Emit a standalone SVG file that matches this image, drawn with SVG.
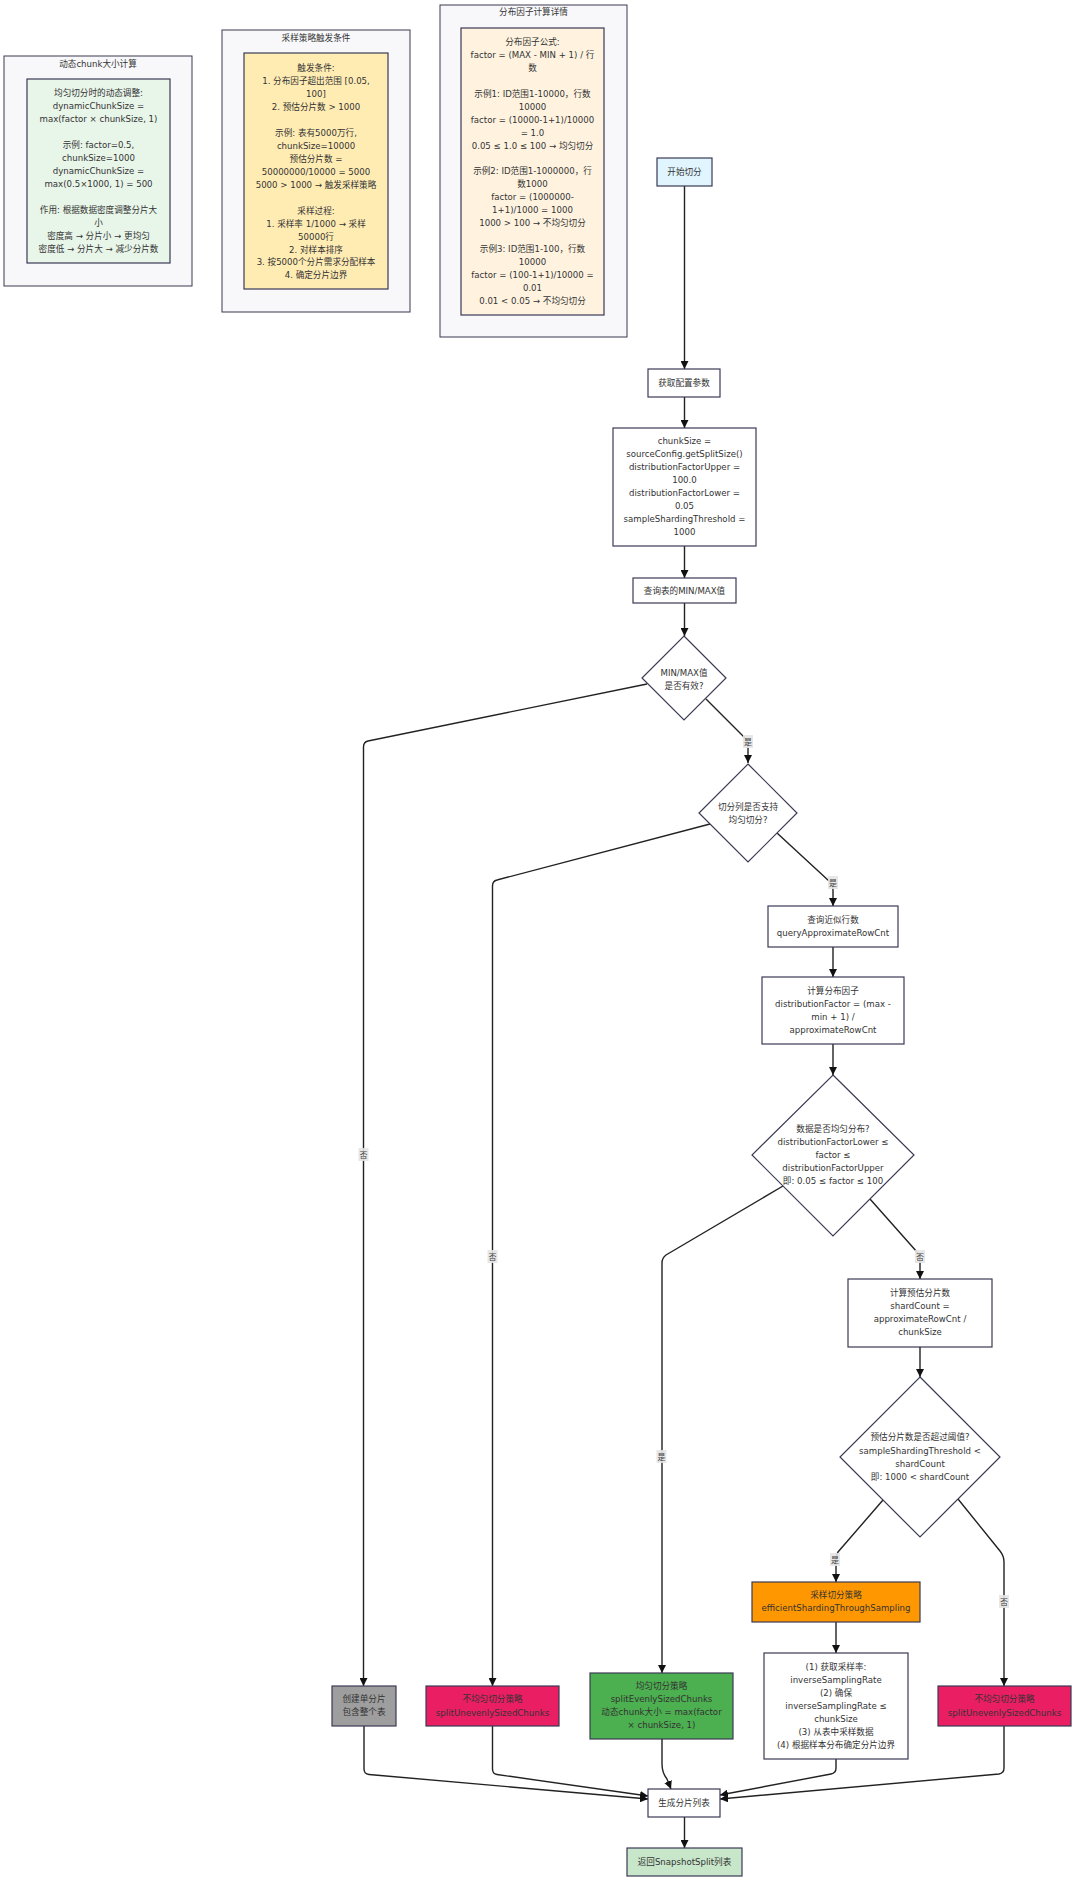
<svg xmlns="http://www.w3.org/2000/svg" width="1080" height="1888" viewBox="0 0 1080 1888">
<style>
.bg{fill:#ffffff}
.cl{fill:#f8f8fb;stroke:#3a3a50;stroke-width:1}
.n{fill:#ffffff;stroke:#3a3a55;stroke-width:1.2}
.t{font-family:"DejaVu Sans","Noto Sans CJK SC",sans-serif;font-size:8.6px;fill:#333333;text-anchor:middle}
.e{fill:none;stroke:#222222;stroke-width:1.4}
.lb{fill:#e4e4e4;opacity:0.9}
.lt{font-family:"Noto Sans CJK SC",sans-serif;font-size:8px;fill:#444;text-anchor:middle}
</style>
<defs>
<marker id="ah" markerUnits="userSpaceOnUse" markerWidth="8" markerHeight="8" refX="8" refY="4" orient="auto">
<path d="M0,0 L8,4 L0,8 z" fill="#111"/>
</marker>
</defs>
<rect class="bg" x="0" y="0" width="1080" height="1888"/>

<g id="cluster-dyn">
<rect class="cl" x="4" y="56" width="188" height="230"/>
<text class="t" x="98" y="67">动态chunk大小计算</text>
<g id="dynNote">
<rect class="n" x="27" y="79" width="143" height="184" style="fill:#e8f5e9"/>
<text class="t"><tspan x="98.5" y="96">均匀切分时的动态调整:</tspan><tspan x="98.5" y="109">dynamicChunkSize =</tspan><tspan x="98.5" y="122">max(factor × chunkSize, 1)</tspan><tspan x="98.5" y="148">示例: factor=0.5,</tspan><tspan x="98.5" y="161">chunkSize=1000</tspan><tspan x="98.5" y="174">dynamicChunkSize =</tspan><tspan x="98.5" y="187">max(0.5×1000, 1) = 500</tspan><tspan x="98.5" y="213">作用: 根据数据密度调整分片大</tspan><tspan x="98.5" y="226">小</tspan><tspan x="98.5" y="239">密度高 → 分片小 → 更均匀</tspan><tspan x="98.5" y="252">密度低 → 分片大 → 减少分片数</tspan></text>
</g>
</g>

<g id="cluster-sample">
<rect class="cl" x="222" y="30" width="188" height="282"/>
<text class="t" x="316" y="41">采样策略触发条件</text>
<g id="sampleNote">
<rect class="n" x="244" y="53" width="144" height="236" style="fill:#ffecb3"/>
<text class="t"><tspan x="316" y="71.3">触发条件:</tspan><tspan x="316" y="84.2">1. 分布因子超出范围 [0.05,</tspan><tspan x="316" y="97.2">100]</tspan><tspan x="316" y="110.1">2. 预估分片数 &gt; 1000</tspan><tspan x="316" y="136">示例: 表有5000万行,</tspan><tspan x="316" y="149">chunkSize=10000</tspan><tspan x="316" y="161.9">预估分片数 =</tspan><tspan x="316" y="174.8">50000000/10000 = 5000</tspan><tspan x="316" y="187.8">5000 &gt; 1000 → 触发采样策略</tspan><tspan x="316" y="213.6">采样过程:</tspan><tspan x="316" y="226.6">1. 采样率 1/1000 → 采样</tspan><tspan x="316" y="239.5">50000行</tspan><tspan x="316" y="252.5">2. 对样本排序</tspan><tspan x="316" y="265.4">3. 按5000个分片需求分配样本</tspan><tspan x="316" y="278.3">4. 确定分片边界</tspan></text>
</g>
</g>

<g id="cluster-factor">
<rect class="cl" x="440" y="5" width="187" height="332"/>
<text class="t" x="533.5" y="15">分布因子计算详情</text>
<g id="factorNote">
<rect class="n" x="461" y="28" width="143" height="287" style="fill:#fff3e0"/>
<text class="t"><tspan x="532.5" y="44.7">分布因子公式:</tspan><tspan x="532.5" y="57.7">factor = (MAX - MIN + 1) / 行</tspan><tspan x="532.5" y="70.6">数</tspan><tspan x="532.5" y="96.6">示例1: ID范围1-10000，行数</tspan><tspan x="532.5" y="109.6">10000</tspan><tspan x="532.5" y="122.5">factor = (10000-1+1)/10000</tspan><tspan x="532.5" y="135.5">= 1.0</tspan><tspan x="532.5" y="148.5">0.05 ≤ 1.0 ≤ 100 → 均匀切分</tspan><tspan x="532.5" y="174.4">示例2: ID范围1-1000000，行</tspan><tspan x="532.5" y="187.4">数1000</tspan><tspan x="532.5" y="200.3">factor = (1000000-</tspan><tspan x="532.5" y="213.3">1+1)/1000 = 1000</tspan><tspan x="532.5" y="226.3">1000 &gt; 100 → 不均匀切分</tspan><tspan x="532.5" y="252.2">示例3: ID范围1-100，行数</tspan><tspan x="532.5" y="265.2">10000</tspan><tspan x="532.5" y="278.2">factor = (100-1+1)/10000 =</tspan><tspan x="532.5" y="291.1">0.01</tspan><tspan x="532.5" y="304.1">0.01 &lt; 0.05 → 不均匀切分</tspan></text>
</g>
</g>

<g id="edges">
<path class="e" marker-end="url(#ah)" d="M684.5,186 L684.5,369"/>
<path class="e" marker-end="url(#ah)" d="M684.5,397 L684.5,428"/>
<path class="e" marker-end="url(#ah)" d="M684.5,546 L684.5,578"/>
<path class="e" marker-end="url(#ah)" d="M684.5,603 L684.5,636"/>
<path class="e" marker-end="url(#ah)" d="M706,699 L745,738 Q748,741 748,746 L748,763"/>
<path class="e" marker-end="url(#ah)" d="M647,684 L368,741 Q363.5,742 363.5,747 L363.5,1686"/>
<path class="e" marker-end="url(#ah)" d="M710,824 L497,880 Q492.5,881 492.5,886 L492.5,1686"/>
<path class="e" marker-end="url(#ah)" d="M777,833 L829,881 Q833,885 833,890 L833,906"/>
<path class="e" marker-end="url(#ah)" d="M833,947 L833,977"/>
<path class="e" marker-end="url(#ah)" d="M833,1044 L833,1075"/>
<path class="e" marker-end="url(#ah)" d="M783,1186 L666,1255 Q662,1258 662,1263 L662,1673"/>
<path class="e" marker-end="url(#ah)" d="M870,1199 L917,1252 Q920,1256 920,1261 L920,1279"/>
<path class="e" marker-end="url(#ah)" d="M920,1347 L920,1377"/>
<path class="e" marker-end="url(#ah)" d="M883,1500 L838,1552 Q836,1555 836,1560 L836,1582"/>
<path class="e" marker-end="url(#ah)" d="M958,1499 L1000,1551 Q1004,1556 1004,1562 L1004,1686"/>
<path class="e" marker-end="url(#ah)" d="M836,1622 L836,1653"/>
<path class="e" marker-end="url(#ah)" d="M364,1726 L364,1769 Q364,1774 369,1774.5 L648,1799"/>
<path class="e" marker-end="url(#ah)" d="M492.5,1726 L492.5,1769 Q492.5,1774 497,1774.5 L648,1796"/>
<path class="e" marker-end="url(#ah)" d="M662,1739 L662,1764 Q662,1773 667,1779 L671,1789"/>
<path class="e" marker-end="url(#ah)" d="M836,1759 L836,1768 Q836,1773 831,1774 L720,1795"/>
<path class="e" marker-end="url(#ah)" d="M1004,1726 L1004,1768 Q1004,1773 999,1774 L720,1799"/>
<path class="e" marker-end="url(#ah)" d="M684.5,1817 L684.5,1848"/>
<g id="edge-labels">
<rect class="lb" x="743" y="735" width="10" height="13"/><text class="lt" x="748" y="745">是</text>
<rect class="lb" x="358.5" y="1148" width="10" height="13"/><text class="lt" x="363.5" y="1158">否</text>
<rect class="lb" x="487.5" y="1250" width="10" height="13"/><text class="lt" x="492.5" y="1260">否</text>
<rect class="lb" x="828" y="876" width="10" height="13"/><text class="lt" x="833" y="886">是</text>
<rect class="lb" x="656.5" y="1450" width="10" height="13"/><text class="lt" x="661.5" y="1460">是</text>
<rect class="lb" x="915" y="1250" width="10" height="13"/><text class="lt" x="920" y="1260">否</text>
<rect class="lb" x="830" y="1553" width="10" height="13"/><text class="lt" x="835" y="1563">是</text>
<rect class="lb" x="999" y="1595" width="10" height="13"/><text class="lt" x="1004" y="1605">否</text>
</g>
</g>

<g id="start">
<rect class="n" x="657" y="158" width="55" height="28" style="fill:#e1f5fe"/>
<text class="t" x="684.5" y="175">开始切分</text>
</g>
<g id="getConfig">
<rect class="n" x="648" y="369" width="72" height="28"/>
<text class="t" x="684" y="386">获取配置参数</text>
</g>
<g id="configVals">
<rect class="n" x="613" y="428" width="143" height="118"/>
<text class="t"><tspan x="684.5" y="443.7">chunkSize =</tspan><tspan x="684.5" y="456.8">sourceConfig.getSplitSize()</tspan><tspan x="684.5" y="469.9">distributionFactorUpper =</tspan><tspan x="684.5" y="483">100.0</tspan><tspan x="684.5" y="496">distributionFactorLower =</tspan><tspan x="684.5" y="509.1">0.05</tspan><tspan x="684.5" y="522.2">sampleShardingThreshold =</tspan><tspan x="684.5" y="535.3">1000</tspan></text>
</g>
<g id="queryMinMax">
<rect class="n" x="633" y="578" width="103" height="25"/>
<text class="t" x="684.5" y="594">查询表的MIN/MAX值</text>
</g>
<g id="validMinMax">
<polygon class="n" points="684,636 726,678 684,720 642,678"/>
<text class="t"><tspan x="684" y="675.5">MIN/MAX值</tspan><tspan x="684" y="688.5">是否有效?</tspan></text>
</g>
<g id="evenSupport">
<polygon class="n" points="748,764 797,813 748,862 699,813"/>
<text class="t"><tspan x="748" y="810">切分列是否支持</tspan><tspan x="748" y="823">均匀切分?</tspan></text>
</g>
<g id="queryRowCnt">
<rect class="n" x="768" y="906" width="130" height="41"/>
<text class="t"><tspan x="833" y="923">查询近似行数</tspan><tspan x="833" y="936">queryApproximateRowCnt</tspan></text>
</g>
<g id="calcFactor">
<rect class="n" x="762" y="977" width="142" height="67"/>
<text class="t"><tspan x="833" y="994">计算分布因子</tspan><tspan x="833" y="1007">distributionFactor = (max -</tspan><tspan x="833" y="1020">min + 1) /</tspan><tspan x="833" y="1033">approximateRowCnt</tspan></text>
</g>
<g id="isEven">
<polygon class="n" points="833,1075 914,1155 833,1236 752,1155"/>
<text class="t"><tspan x="833" y="1132">数据是否均匀分布?</tspan><tspan x="833" y="1145">distributionFactorLower ≤</tspan><tspan x="833" y="1158">factor ≤</tspan><tspan x="833" y="1171">distributionFactorUpper</tspan><tspan x="833" y="1184">即: 0.05 ≤ factor ≤ 100</tspan></text>
</g>
<g id="calcShard">
<rect class="n" x="848" y="1279" width="144" height="68"/>
<text class="t"><tspan x="920" y="1296">计算预估分片数</tspan><tspan x="920" y="1309">shardCount =</tspan><tspan x="920" y="1322">approximateRowCnt /</tspan><tspan x="920" y="1335">chunkSize</tspan></text>
</g>
<g id="overThreshold">
<polygon class="n" points="920,1377 1000,1457 920,1537 840,1457"/>
<text class="t"><tspan x="920" y="1440">预估分片数是否超过阈值?</tspan><tspan x="920" y="1454">sampleShardingThreshold &lt;</tspan><tspan x="920" y="1467">shardCount</tspan><tspan x="920" y="1480">即: 1000 &lt; shardCount</tspan></text>
</g>
<g id="samplingStrategy">
<rect class="n" x="752" y="1582" width="168" height="40" style="fill:#ff9800"/>
<text class="t"><tspan x="836" y="1598">采样切分策略</tspan><tspan x="836" y="1611">efficientShardingThroughSampling</tspan></text>
</g>
<g id="samplingSteps">
<rect class="n" x="764" y="1653" width="144" height="106"/>
<text class="t"><tspan x="836" y="1670">(1) 获取采样率:</tspan><tspan x="836" y="1683">inverseSamplingRate</tspan><tspan x="836" y="1696">(2) 确保</tspan><tspan x="836" y="1709">inverseSamplingRate ≤</tspan><tspan x="836" y="1722">chunkSize</tspan><tspan x="836" y="1735">(3) 从表中采样数据</tspan><tspan x="836" y="1748">(4) 根据样本分布确定分片边界</tspan></text>
</g>
<g id="unevenRight">
<rect class="n" x="938" y="1686" width="133" height="40" style="fill:#e91e63"/>
<text class="t"><tspan x="1004.5" y="1702">不均匀切分策略</tspan><tspan x="1004.5" y="1716">splitUnevenlySizedChunks</tspan></text>
</g>
<g id="singleSplit">
<rect class="n" x="332" y="1686" width="64" height="40" style="fill:#9e9e9e"/>
<text class="t"><tspan x="364" y="1702">创建单分片</tspan><tspan x="364" y="1715">包含整个表</tspan></text>
</g>
<g id="unevenLeft">
<rect class="n" x="426" y="1686" width="133" height="40" style="fill:#e91e63"/>
<text class="t"><tspan x="492.5" y="1702">不均匀切分策略</tspan><tspan x="492.5" y="1716">splitUnevenlySizedChunks</tspan></text>
</g>
<g id="evenStrategy">
<rect class="n" x="590" y="1673" width="143" height="66" style="fill:#4caf50"/>
<text class="t"><tspan x="661.5" y="1689">均匀切分策略</tspan><tspan x="661.5" y="1702">splitEvenlySizedChunks</tspan><tspan x="661.5" y="1715">动态chunk大小 = max(factor</tspan><tspan x="661.5" y="1728">× chunkSize, 1)</tspan></text>
</g>
<g id="genSplits">
<rect class="n" x="648" y="1789" width="72" height="28"/>
<text class="t" x="684" y="1806">生成分片列表</text>
</g>
<g id="returnList">
<rect class="n" x="627" y="1848" width="115" height="28" style="fill:#c8e6c9"/>
<text class="t" x="684.5" y="1865">返回SnapshotSplit列表</text>
</g>
</svg>
